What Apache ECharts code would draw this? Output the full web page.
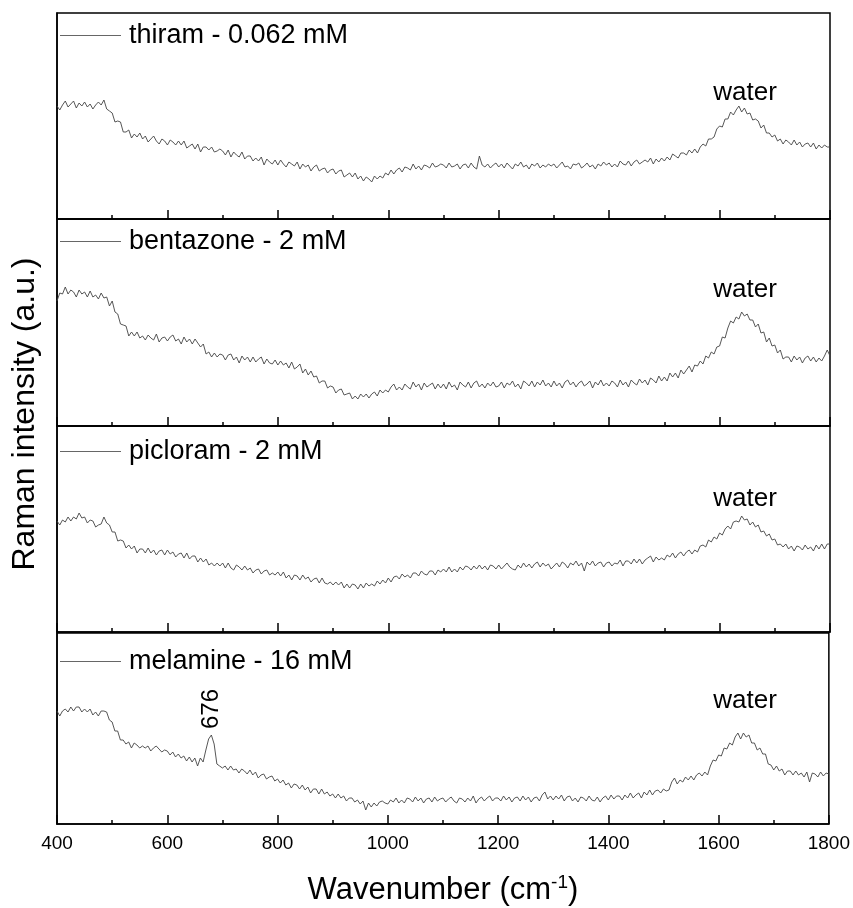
<!DOCTYPE html>
<html><head><meta charset="utf-8">
<script src="https://cdn.jsdelivr.net/npm/echarts@6/dist/echarts.min.js"></script>
<style>html,body{margin:0;padding:0;background:#fff}#c{width:853px;height:908px}</style>
</head><body><div id="c"></div><script>
// Wavenumber grid (cm-1), sampled every 5 cm-1 from 400 to 1800
const WN_START = 400, WN_STEP = 5, WN_COUNT = 281;
const wavenumbers = [];
for (let i = 0; i < WN_COUNT; i++) wavenumbers.push(WN_START + i * WN_STEP);

const seriesNames = ['thiram - 0.062 mM', 'bentazone - 2 mM', 'picloram - 2 mM', 'melamine - 16 mM'];
const xTicks = [400, 600, 800, 1000, 1200, 1400, 1600, 1800];

const thiram = [
113,109,114,118,112,115,118,111,116,113,117,112,115,110,114,117,114,119,110,108,
106,97,98,97,87,87,89,81,85,82,86,80,83,77,80,83,78,75,80,78,
74,79,77,74,78,74,78,71,73,75,70,75,67,72,72,69,72,67,68,70,
68,64,69,62,67,64,62,67,60,63,63,58,61,58,62,54,60,57,55,59,
54,59,55,52,57,55,53,57,50,55,52,54,48,52,54,48,50,51,46,49,
50,45,48,49,42,44,46,42,46,40,43,38,42,40,37,43,40,43,41,46,
44,49,45,49,51,47,52,51,49,55,50,53,49,54,53,51,56,52,53,55,
54,51,56,52,53,55,50,54,55,51,56,52,50,63,54,52,55,51,54,56,
52,55,51,56,53,50,55,53,57,52,54,50,55,53,56,51,54,52,55,53,
55,51,54,57,52,53,50,55,54,56,51,53,56,52,54,50,55,53,57,54,
56,52,55,52,58,55,54,58,53,57,59,55,57,59,57,61,55,60,57,61,
58,62,59,65,63,61,66,66,64,69,66,70,66,72,75,73,80,80,82,90,
93,92,100,100,107,104,109,113,107,111,105,106,99,100,98,91,94,86,86,82,
84,78,80,75,79,77,74,79,74,77,72,75,76,72,76,70,74,71,74,72,
72];

const bentazone = [
125,133,132,139,132,136,134,129,136,132,134,129,135,129,131,127,133,128,129,120,
125,114,112,102,101,100,90,94,90,94,88,90,86,91,88,86,92,84,88,89,
85,89,91,85,87,82,89,84,87,82,87,83,79,82,72,74,69,73,69,72,
71,66,71,72,66,69,63,70,66,69,64,69,64,67,69,62,67,63,62,66,
61,65,61,63,58,64,57,59,62,53,57,51,55,49,50,43,45,45,38,40,
39,33,36,37,31,32,33,27,30,27,32,29,32,28,32,34,30,36,33,36,
34,39,42,36,39,36,42,39,37,44,39,42,36,43,39,41,43,37,42,38,
42,37,44,39,41,36,44,41,39,44,38,43,45,39,42,38,43,40,44,39,
40,44,38,43,41,45,39,42,37,45,43,40,45,39,44,41,46,40,43,39,
45,40,43,38,44,46,41,44,39,43,45,40,42,45,38,44,41,46,40,43,
40,45,43,39,46,41,44,39,46,43,41,47,43,46,41,48,46,43,50,45,
49,45,53,49,53,48,56,52,56,60,54,61,60,65,62,70,68,74,72,79,
80,89,88,98,105,103,109,107,114,110,112,106,106,99,102,93,94,84,88,80,
81,73,76,67,69,69,64,70,66,69,63,68,70,65,69,64,68,65,70,76,
70];

const picloram = [
111,107,112,110,115,111,115,113,119,114,115,109,112,111,105,107,108,115,109,107,
100,100,91,92,91,84,87,83,86,79,83,83,79,84,79,82,77,81,82,77,
82,78,80,75,78,79,74,79,73,76,76,70,74,70,73,67,69,66,69,66,
69,64,69,64,62,67,65,62,66,62,64,59,62,63,58,61,62,57,59,57,
60,56,60,54,57,52,57,56,52,57,53,55,50,53,54,49,54,49,48,50,
47,50,47,50,44,48,44,48,47,43,48,44,49,46,48,46,51,48,52,49,
54,50,55,56,53,58,55,57,54,59,59,56,61,58,57,61,61,57,62,60,
63,60,65,60,63,60,65,62,66,65,62,66,63,67,63,66,62,67,66,63,
67,63,66,69,65,63,62,67,64,69,65,68,64,68,70,65,69,66,68,63,
66,69,65,70,68,64,69,67,71,66,69,61,70,67,71,66,69,70,65,69,
70,66,69,68,72,66,71,71,68,73,69,73,68,72,74,76,70,75,72,74,
72,77,75,79,74,78,80,76,80,82,78,82,80,86,87,85,92,90,95,93,
99,97,103,106,103,110,111,110,116,112,113,107,110,105,107,100,101,96,98,92,
93,87,88,85,88,83,86,81,86,85,82,87,83,85,81,87,83,88,83,88,
88];

const melamine = [
113,108,113,115,112,117,113,117,117,112,115,112,115,109,112,108,113,113,112,104,
102,93,93,84,84,80,82,76,81,79,76,78,76,78,73,76,78,75,72,74,
73,69,72,67,70,66,68,63,67,62,66,58,66,62,74,85,89,80,60,58,
56,58,54,58,54,55,51,55,53,50,54,49,52,46,49,50,45,47,48,43,
45,41,44,39,41,36,40,39,35,39,34,37,31,35,35,30,35,30,32,28,
30,26,30,26,28,23,26,26,22,24,20,23,14,21,17,21,18,22,23,21,
20,24,22,26,21,24,21,26,25,22,27,23,26,21,25,26,22,27,23,25,
26,22,25,27,23,21,26,25,22,26,23,28,21,25,27,23,26,28,23,26,
26,23,28,24,27,22,26,27,23,28,24,27,22,26,27,23,29,32,25,28,
24,28,25,29,23,27,28,23,26,22,27,26,23,28,24,23,27,22,26,28,
24,29,25,28,28,24,29,26,31,26,29,31,26,32,29,34,29,33,34,31,
35,33,34,42,46,40,44,42,47,44,48,44,49,51,48,52,49,58,64,63,
69,68,76,75,81,79,87,91,85,91,87,89,81,81,74,76,70,70,60,59,
54,58,53,55,49,53,53,49,53,49,51,47,52,42,51,50,47,52,48,51,
50];

const spectra = [thiram, bentazone, picloram, melamine];

// layout (pixels)
const FONT = '"Liberation Sans", Arial, sans-serif';
const panelTops = [13, 219, 426, 633];
const panelHeights = [206, 207, 206, 191];
const yMax = [206, 207, 206, 191];
const legendCenters = [36, 242, 452, 662];
const waterY = [93, 290, 499, 701];

const grids = [], xAxes = [], yAxes = [], series = [], legends = [], graphics = [];
for (let i = 0; i < 4; i++) {
  grids.push({left: 57, width: 773, top: panelTops[i], height: panelHeights[i],
    show: true, borderColor: '#000', borderWidth: 1.5, backgroundColor: 'transparent'});
  const last = i === 3;
  xAxes.push({
    type: 'value', gridIndex: i, min: 400, max: 1800, interval: 200,
    axisLine: {show: true, onZero: false, lineStyle: {color: '#000', width: 1.5}},
    axisTick: {show: true, inside: true, length: 9, lineStyle: {color: '#000', width: 1.5}},
    minorTick: {show: true, splitNumber: 2, length: 4, lineStyle: {color: '#000', width: 1.5}},
    splitLine: {show: false}, minorSplitLine: {show: false},
    axisLabel: {show: last, fontSize: 19, color: '#000', fontFamily: FONT, margin: 10,
      showMinLabel: true, showMaxLabel: true,
      formatter: v => xTicks.includes(v) ? String(v) : ''},
    name: last ? '{a|Wavenumber (cm}{s|-1}{a|)}' : '',
    nameLocation: 'middle', nameGap: 49,
    nameTextStyle: {fontFamily: FONT, color: '#000', fontSize: 31,
      rich: {a: {fontSize: 31, fontFamily: FONT, color: '#000', lineHeight: 34},
             s: {fontSize: 19, fontFamily: FONT, color: '#000', lineHeight: 19, verticalAlign: 'top'}}}
  });
  yAxes.push({type: 'value', gridIndex: i, min: 0, max: yMax[i],
    axisLine: {show: true, lineStyle: {color: '#000', width: 1.5}},
    axisTick: {show: false}, axisLabel: {show: false}, splitLine: {show: false}});
  series.push({
    name: seriesNames[i], type: 'line', xAxisIndex: i, yAxisIndex: i,
    data: wavenumbers.map((w, j) => [w, spectra[i][j]]),
    symbol: 'none', showSymbol: false, color: '#444',
    lineStyle: {color: '#444', width: 0.9}, animation: false, silent: true
  });
  legends.push({
    data: [{name: seriesNames[i], icon: 'rect'}], left: 60, top: legendCenters[i] - 14, padding: 0,
    itemWidth: 61, itemHeight: 1, selectedMode: false,
    itemStyle: {color: '#666', borderWidth: 0},
    textStyle: {fontSize: 27, color: '#000', fontFamily: FONT, padding: [0, 0, 0, 3]}
  });
  graphics.push({type: 'text', x: 745, y: waterY[i],
    style: {text: 'water', fontSize: 26, fontFamily: FONT, fill: '#000', align: 'center', verticalAlign: 'middle'}});
}
graphics.push({type: 'text', x: 25, y: 414, rotation: Math.PI / 2,
  style: {text: 'Raman intensity (a.u.)', fontSize: 32, fontFamily: FONT, fill: '#000', align: 'center', verticalAlign: 'middle'}});
graphics.push({type: 'text', x: 211, y: 709, rotation: Math.PI / 2,
  style: {text: '676', fontSize: 24, fontFamily: FONT, fill: '#000', align: 'center', verticalAlign: 'middle'}});

const chart = echarts.init(document.getElementById('c'), null, {renderer: 'canvas'});
chart.setOption({
  animation: false, backgroundColor: '#fff',
  grid: grids, xAxis: xAxes, yAxis: yAxes, series: series, legend: legends, graphic: graphics
});
</script></body></html>
